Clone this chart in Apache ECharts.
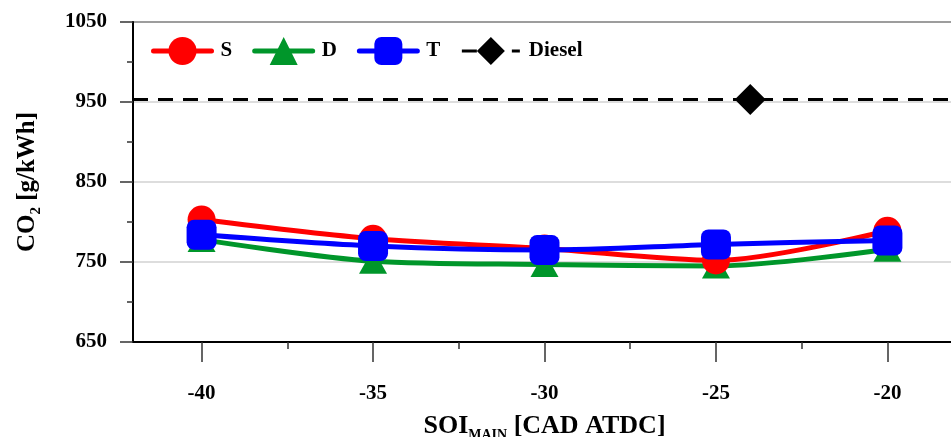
<!DOCTYPE html>
<html>
<head>
<meta charset="utf-8">
<script src="https://cdn.jsdelivr.net/npm/echarts@6/dist/echarts.min.js"></script>
<style>
  html, body { margin: 0; padding: 0; background: #fff; }
  #chart { width: 951px; height: 437px; }
</style>
</head>
<body>
<div id="chart"></div>
<script>
// Start of main injection timing (CAD ATDC)
const soiMain = [-40, -35, -30, -25, -20];

// CO2 emissions [g/kWh] for each injection strategy
const seriesS = [803, 779, 767, 752, 789];
const seriesD = [778, 751, 747, 745, 766];
const seriesT = [784, 770, 765, 772, 777];

// Diesel reference point
const dieselSoi = [-24];
const dieselCo2 = [953];

// Axis ticks
const xMajorTicks = [-40, -35, -30, -25, -20];
const xMinorTicks = [-37.5, -32.5, -27.5, -22.5];
const legendOrder = ['S', 'D', 'T', 'Diesel'];

const FONT = '"Liberation Serif", "Times New Roman", serif';
const DASH = [15, 10];

function pairs(xs, ys) {
  return xs.map((x, i) => [x, ys[i]]);
}

const chart = echarts.init(document.getElementById('chart'), null, { renderer: 'canvas' });

const tickStyle = { color: '#333', width: 1.5 };

const option = {
  backgroundColor: '#fff',
  animation: false,
  grid: {
    left: 133,
    top: 22,
    width: 823,
    height: 320,
    show: true,
    borderColor: '#000',
    borderWidth: 2,
    containLabel: false,
    outerBoundsMode: 'none'
  },
  legend: {
    data: legendOrder.map(name => ({
      name: name,
      lineStyle: name === 'Diesel'
        ? { width: 3, type: DASH, color: '#000' }
        : { width: 5, cap: 'round' }
    })),
    left: 146,
    top: 32,
    orient: 'horizontal',
    itemWidth: 58,
    itemHeight: 35,
    itemGap: 20,
    textStyle: {
      fontFamily: FONT,
      fontWeight: 'bold',
      fontSize: 21,
      color: '#000',
      padding: [0, 0, 0, 4]
    }
  },
  xAxis: [
    {
      type: 'value',
      min: -42,
      max: -18,
      position: 'bottom',
      name: '{a|SOI}{sub|MAIN}{a| [CAD ATDC]}',
      nameLocation: 'middle',
      nameGap: 68,
      nameTextStyle: {
        rich: {
          a: { fontFamily: FONT, fontWeight: 'bold', fontSize: 26, color: '#000', lineHeight: 32 },
          sub: { fontFamily: FONT, fontWeight: 'bold', fontSize: 14, color: '#000', lineHeight: 32, verticalAlign: 'bottom' }
        }
      },
      axisLine: { show: true, onZero: false, lineStyle: { color: '#000', width: 2 } },
      axisTick: { show: true, inside: false, length: 20, customValues: xMajorTicks, lineStyle: tickStyle },
      axisLabel: {
        customValues: xMajorTicks,
        margin: 41,
        fontFamily: FONT,
        fontWeight: 'bold',
        fontSize: 21,
        color: '#000'
      },
      splitLine: { show: false }
    },
    {
      type: 'value',
      min: -42,
      max: -18,
      position: 'bottom',
      axisLine: { show: false, onZero: false },
      axisTick: { show: true, inside: false, length: 7, customValues: xMinorTicks, lineStyle: tickStyle },
      axisLabel: { show: false },
      splitLine: { show: false }
    }
  ],
  yAxis: {
    type: 'value',
    min: 650,
    max: 1050,
    interval: 100,
    name: '{a|CO}{sub|2}{a| [g/kWh]}',
    nameLocation: 'middle',
    nameGap: 89,
    nameRotate: 90,
    nameTextStyle: {
      rich: {
        a: { fontFamily: FONT, fontWeight: 'bold', fontSize: 25, color: '#000', lineHeight: 32 },
        sub: { fontFamily: FONT, fontWeight: 'bold', fontSize: 15, color: '#000', lineHeight: 32, verticalAlign: 'bottom' }
      }
    },
    axisLine: { show: true, onZero: false, lineStyle: { color: '#000', width: 2 } },
    axisTick: { show: true, inside: false, length: 13, lineStyle: tickStyle },
    minorTick: { show: true, splitNumber: 2, length: 6, lineStyle: tickStyle },
    axisLabel: {
      margin: 26,
      fontFamily: FONT,
      fontWeight: 'bold',
      fontSize: 21,
      color: '#000',
      formatter: v => String(v)
    },
    splitLine: { show: true, lineStyle: { color: '#d2d2d2', width: 1.5 } }
  },
  series: [
    {
      name: 'D',
      type: 'line',
      xAxisIndex: 0,
      data: pairs(soiMain, seriesD),
      smooth: 0.3,
      symbol: 'triangle',
      symbolSize: [28, 25],
      color: '#00962a',
      lineStyle: { color: '#00962a', width: 5, cap: 'round' },
      itemStyle: { color: '#00962a' }
    },
    {
      name: 'S',
      type: 'line',
      xAxisIndex: 0,
      data: pairs(soiMain, seriesS),
      smooth: 0.3,
      symbol: 'circle',
      symbolSize: 28,
      color: '#ff0000',
      lineStyle: { color: '#ff0000', width: 5, cap: 'round' },
      itemStyle: { color: '#ff0000' }
    },
    {
      name: 'T',
      type: 'line',
      xAxisIndex: 0,
      data: pairs(soiMain, seriesT),
      smooth: 0.3,
      symbol: 'roundRect',
      symbolSize: 30,
      color: '#0000ff',
      lineStyle: { color: '#0000ff', width: 5, cap: 'round' },
      itemStyle: { color: '#0000ff' }
    },
    {
      name: 'Diesel',
      type: 'line',
      xAxisIndex: 0,
      data: pairs(dieselSoi, dieselCo2),
      symbol: 'diamond',
      symbolSize: 31,
      color: '#000',
      lineStyle: { color: '#000', width: 3, type: DASH },
      itemStyle: { color: '#000' },
      z: 3,
      markLine: {
        silent: true,
        symbol: 'none',
        label: { show: false },
        lineStyle: { color: '#000', width: 3, type: DASH },
        data: [{ yAxis: dieselCo2[0] }]
      }
    }
  ]
};

chart.setOption(option);
</script>
</body>
</html>
